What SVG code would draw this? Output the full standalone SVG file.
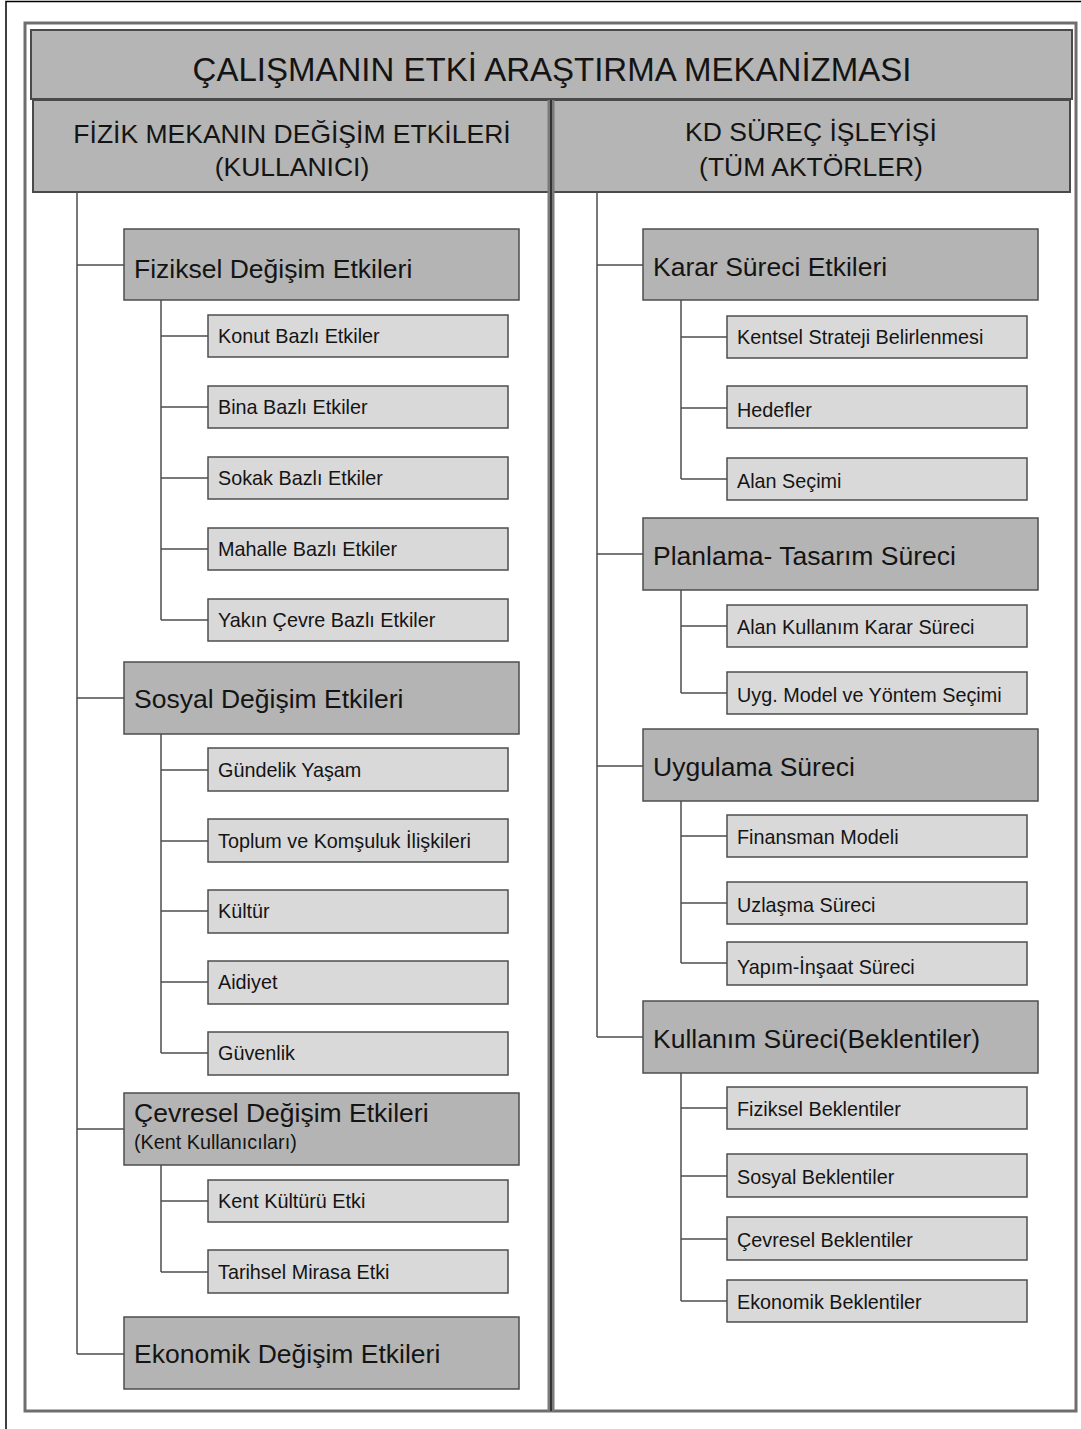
<svg xmlns="http://www.w3.org/2000/svg" width="1081" height="1429" viewBox="0 0 1081 1429">
<style>
text{font-family:"Liberation Sans",Arial,sans-serif;fill:#141414}
.hdr{fill:#b5b5b5;stroke:#4a4a4a;stroke-width:2}
.main{fill:#b4b4b4;stroke:#4d4d4d;stroke-width:1.5}
.sub{fill:#d9d9d9;stroke:#4d4d4d;stroke-width:1.5}
.mt{font-size:26.5px}
.st{font-size:19.8px}
.conn line{stroke:#4d4d4d;stroke-width:1.5}
</style>
<rect x="0" y="0" width="1081" height="1429" fill="#fff"/>
<path d="M6 1429 V1.5 H1081" fill="none" stroke="#000" stroke-width="1.5"/>
<rect x="25" y="23" width="1051" height="1388" fill="#fff" stroke="#6e6e6e" stroke-width="3"/>
<g id="title"><rect class="hdr" x="31" y="30" width="1041" height="69"/>
<text x="552" y="81" font-size="33" text-anchor="middle">ÇALIŞMANIN ETKİ ARAŞTIRMA MEKANİZMASI</text></g>
<g id="hdr-left"><rect class="hdr" x="33" y="100" width="517" height="92"/>
<text x="292" y="143" font-size="26.5" text-anchor="middle">FİZİK MEKANIN DEĞİŞİM ETKİLERİ</text>
<text x="292" y="176" font-size="26.5" text-anchor="middle">(KULLANICI)</text></g>
<g id="hdr-right"><rect class="hdr" x="553" y="100" width="517" height="92"/>
<text x="811" y="141" font-size="26.5" text-anchor="middle">KD SÜREÇ İŞLEYİŞİ</text>
<text x="811" y="176" font-size="26.5" text-anchor="middle">(TÜM AKTÖRLER)</text></g>
<line x1="551" y1="100" x2="551" y2="1411" stroke="#7a7a7a" stroke-width="7"/>
<line x1="551" y1="100" x2="551" y2="1411" stroke="#333" stroke-width="2"/>
<g class="conn" id="connectors">
<line x1="77" y1="193" x2="77" y2="1354"/>
<line x1="77" y1="265" x2="124" y2="265"/>
<line x1="77" y1="698" x2="124" y2="698"/>
<line x1="77" y1="1129" x2="124" y2="1129"/>
<line x1="77" y1="1354" x2="124" y2="1354"/>
<line x1="161" y1="300" x2="161" y2="620"/>
<line x1="161" y1="336" x2="208" y2="336"/>
<line x1="161" y1="407" x2="208" y2="407"/>
<line x1="161" y1="478" x2="208" y2="478"/>
<line x1="161" y1="549" x2="208" y2="549"/>
<line x1="161" y1="620" x2="208" y2="620"/>
<line x1="161" y1="734" x2="161" y2="1053"/>
<line x1="161" y1="770" x2="208" y2="770"/>
<line x1="161" y1="841" x2="208" y2="841"/>
<line x1="161" y1="911" x2="208" y2="911"/>
<line x1="161" y1="982" x2="208" y2="982"/>
<line x1="161" y1="1053" x2="208" y2="1053"/>
<line x1="161" y1="1165" x2="161" y2="1272"/>
<line x1="161" y1="1201" x2="208" y2="1201"/>
<line x1="161" y1="1272" x2="208" y2="1272"/>
<line x1="597" y1="193" x2="597" y2="1037"/>
<line x1="597" y1="265" x2="643" y2="265"/>
<line x1="597" y1="554" x2="643" y2="554"/>
<line x1="597" y1="766" x2="643" y2="766"/>
<line x1="597" y1="1037" x2="643" y2="1037"/>
<line x1="681" y1="300" x2="681" y2="479"/>
<line x1="681" y1="337" x2="727" y2="337"/>
<line x1="681" y1="408" x2="727" y2="408"/>
<line x1="681" y1="479" x2="727" y2="479"/>
<line x1="681" y1="590" x2="681" y2="693"/>
<line x1="681" y1="626" x2="727" y2="626"/>
<line x1="681" y1="693" x2="727" y2="693"/>
<line x1="681" y1="801" x2="681" y2="963"/>
<line x1="681" y1="836" x2="727" y2="836"/>
<line x1="681" y1="903" x2="727" y2="903"/>
<line x1="681" y1="963" x2="727" y2="963"/>
<line x1="681" y1="1073" x2="681" y2="1301"/>
<line x1="681" y1="1108" x2="727" y2="1108"/>
<line x1="681" y1="1176" x2="727" y2="1176"/>
<line x1="681" y1="1239" x2="727" y2="1239"/>
<line x1="681" y1="1301" x2="727" y2="1301"/>
</g>
<g id="n-fiziksel"><rect class="main" x="124" y="229" width="395" height="71"/><text class="mt" x="134" y="278">Fiziksel Değişim Etkileri</text></g>
<g id="n-konut"><rect class="sub" x="208" y="315" width="300" height="42"/><text class="st" x="218" y="343">Konut Bazlı Etkiler</text></g>
<g id="n-bina"><rect class="sub" x="208" y="386" width="300" height="42"/><text class="st" x="218" y="414">Bina Bazlı Etkiler</text></g>
<g id="n-sokak"><rect class="sub" x="208" y="457" width="300" height="42"/><text class="st" x="218" y="485">Sokak Bazlı Etkiler</text></g>
<g id="n-mahalle"><rect class="sub" x="208" y="528" width="300" height="42"/><text class="st" x="218" y="556">Mahalle Bazlı Etkiler</text></g>
<g id="n-yakin"><rect class="sub" x="208" y="599" width="300" height="42"/><text class="st" x="218" y="627">Yakın Çevre Bazlı Etkiler</text></g>
<g id="n-sosyal"><rect class="main" x="124" y="662" width="395" height="72"/><text class="mt" x="134" y="708">Sosyal Değişim Etkileri</text></g>
<g id="n-gundelik"><rect class="sub" x="208" y="748" width="300" height="43"/><text class="st" x="218" y="777">Gündelik Yaşam</text></g>
<g id="n-toplum"><rect class="sub" x="208" y="819" width="300" height="43"/><text class="st" x="218" y="848">Toplum ve Komşuluk İlişkileri</text></g>
<g id="n-kultur"><rect class="sub" x="208" y="890" width="300" height="43"/><text class="st" x="218" y="918">Kültür</text></g>
<g id="n-aidiyet"><rect class="sub" x="208" y="961" width="300" height="43"/><text class="st" x="218" y="989">Aidiyet</text></g>
<g id="n-guvenlik"><rect class="sub" x="208" y="1032" width="300" height="43"/><text class="st" x="218" y="1060">Güvenlik</text></g>
<g id="n-cevresel"><rect class="main" x="124" y="1093" width="395" height="72"/><text class="mt" x="134" y="1122">Çevresel Değişim Etkileri</text><text class="st" x="134" y="1149">(Kent Kullanıcıları)</text></g>
<g id="n-kentkultur"><rect class="sub" x="208" y="1180" width="300" height="42"/><text class="st" x="218" y="1208">Kent Kültürü Etki</text></g>
<g id="n-tarihsel"><rect class="sub" x="208" y="1250" width="300" height="43"/><text class="st" x="218" y="1279">Tarihsel Mirasa Etki</text></g>
<g id="n-ekonomik"><rect class="main" x="124" y="1317" width="395" height="72"/><text class="mt" x="134" y="1363">Ekonomik Değişim Etkileri</text></g>
<g id="n-karar"><rect class="main" x="643" y="229" width="395" height="71"/><text class="mt" x="653" y="276">Karar Süreci Etkileri</text></g>
<g id="n-kentsel"><rect class="sub" x="727" y="316" width="300" height="42"/><text class="st" x="737" y="344">Kentsel Strateji Belirlenmesi</text></g>
<g id="n-hedefler"><rect class="sub" x="727" y="386" width="300" height="42"/><text class="st" x="737" y="417">Hedefler</text></g>
<g id="n-alansecimi"><rect class="sub" x="727" y="458" width="300" height="42"/><text class="st" x="737" y="488">Alan Seçimi</text></g>
<g id="n-planlama"><rect class="main" x="643" y="518" width="395" height="72"/><text class="mt" x="653" y="565">Planlama- Tasarım Süreci</text></g>
<g id="n-alankullanim"><rect class="sub" x="727" y="605" width="300" height="42"/><text class="st" x="737" y="634">Alan Kullanım Karar Süreci</text></g>
<g id="n-uyg"><rect class="sub" x="727" y="672" width="300" height="42"/><text class="st" x="737" y="702">Uyg. Model ve Yöntem Seçimi</text></g>
<g id="n-uygulama"><rect class="main" x="643" y="729" width="395" height="72"/><text class="mt" x="653" y="776">Uygulama Süreci</text></g>
<g id="n-finansman"><rect class="sub" x="727" y="815" width="300" height="42"/><text class="st" x="737" y="844">Finansman Modeli</text></g>
<g id="n-uzlasma"><rect class="sub" x="727" y="882" width="300" height="42"/><text class="st" x="737" y="912">Uzlaşma Süreci</text></g>
<g id="n-yapim"><rect class="sub" x="727" y="942" width="300" height="43"/><text class="st" x="737" y="974">Yapım-İnşaat Süreci</text></g>
<g id="n-kullanim"><rect class="main" x="643" y="1001" width="395" height="72"/><text class="mt" x="653" y="1048">Kullanım Süreci(Beklentiler)</text></g>
<g id="n-fizb"><rect class="sub" x="727" y="1087" width="300" height="42"/><text class="st" x="737" y="1116">Fiziksel Beklentiler</text></g>
<g id="n-sosb"><rect class="sub" x="727" y="1154" width="300" height="43"/><text class="st" x="737" y="1184">Sosyal Beklentiler</text></g>
<g id="n-cevb"><rect class="sub" x="727" y="1217" width="300" height="43"/><text class="st" x="737" y="1247">Çevresel Beklentiler</text></g>
<g id="n-ekob"><rect class="sub" x="727" y="1280" width="300" height="42"/><text class="st" x="737" y="1309">Ekonomik Beklentiler</text></g>
</svg>
